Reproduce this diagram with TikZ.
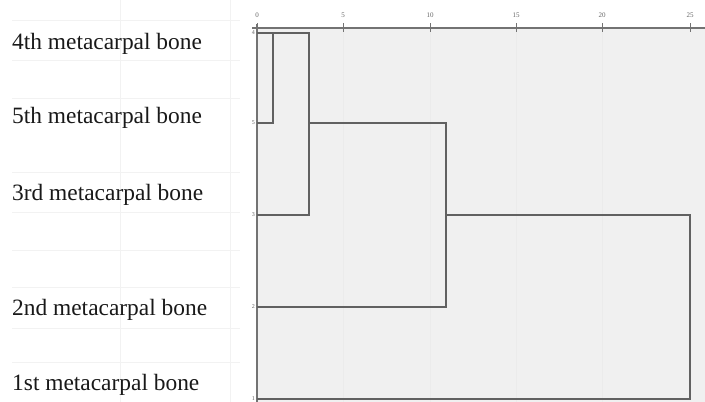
\documentclass[tikz,border=0pt]{standalone}
\usepackage{fontspec}
\setmainfont{Liberation Serif}
\begin{document}
\begin{tikzpicture}[x=1pt,y=-1pt,
  tree/.style={draw=black!62,line width=1.8pt,line join=miter},
  axisline/.style={draw=black!55,line width=1.4pt},
  faint/.style={draw=black!5,line width=1pt},
  plotgrid/.style={draw=black!8,line width=1pt},
  leaflabel/.style={anchor=west,inner sep=0pt,font=\fontsize{23.4}{26}\selectfont,text=black!90},
  ticklabel/.style={inner sep=0pt,font=\fontsize{7}{8}\selectfont,text=black!60},
  leafnum/.style={anchor=east,inner sep=0pt,font=\fontsize{6}{7}\selectfont,text=black!60}]
\useasboundingbox (0,0) rectangle (705,402);
\fill[white] (0,0) rectangle (705,402);
% left table faint grid
\foreach \yy in {20,60,98,172,212,250,287,328,362}
  \draw[faint] (12,\yy) -- (240,\yy);
\draw[faint] (120,0) -- (120,402);
\draw[faint] (230,0) -- (230,402);
% plot background
\fill[black!6] (257,28) rectangle (705,402);
\foreach \xx in {343,430,516,602}
  \draw[plotgrid] (\xx,30) -- (\xx,402);
% axes
\draw[axisline] (252,28) -- (705,28);
\draw[axisline] (257,24) -- (257,402);
\foreach \v/\xx in {0/257,5/343,10/430,15/516,20/602,25/690}{
  \draw[draw=black!55,line width=0.8pt] (\xx,23) -- (\xx,32);
  \node[ticklabel] (t\v) at (\xx,15) {\v};
}
% leaves
\coordinate (L4) at (257,33);
\coordinate (L5) at (257,123);
\coordinate (L3) at (257,215);
\coordinate (L2) at (257,307);
\coordinate (L1) at (257,399);
\node[leafnum] (n4) at (255,33) {4};
\node[leafnum] (n5) at (255,123) {5};
\node[leafnum] (n3) at (255,215) {3};
\node[leafnum] (n2) at (255,307) {2};
\node[leafnum] (n1) at (255,399) {1};
% labels
\node[leaflabel] (lab4) at (12,44) {4th metacarpal bone};
\node[leaflabel] (lab5) at (12,118) {5th metacarpal bone};
\node[leaflabel] (lab3) at (12,195) {3rd metacarpal bone};
\node[leaflabel] (lab2) at (12,310) {2nd metacarpal bone};
\node[leaflabel] (lab1) at (12,385) {1st metacarpal bone};
% merge points
\coordinate (m45) at (273,33);
\coordinate (m453) at (309,33);
\coordinate (m2) at (446,123);
\coordinate (m1) at (690,215);
% dendrogram
\draw[tree] (L5) -- (L5 -| m45) -- (m45) -- (m453) -- (m453 |- L3) -- (L3);
\draw[tree] (L4) -- (m45);
\draw[tree] (m453 |- L5) -- (m2) -- (m2 |- L2) -- (L2);
\draw[tree] (m2 |- L3) -- (m1) -- (m1 |- L1) -- (L1);
\end{tikzpicture}
\end{document}
